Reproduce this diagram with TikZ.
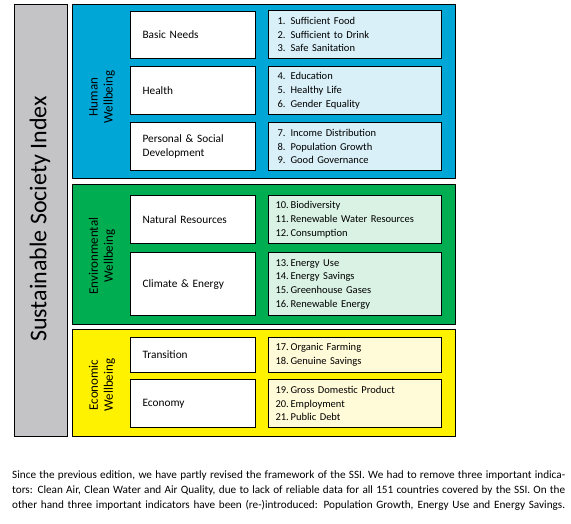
\documentclass[tikz,border=0pt]{standalone}
\usepackage{fontspec}
\setmainfont{Carlito}
\definecolor{hwblue}{RGB}{0,166,214}
\definecolor{hwlight}{RGB}{217,240,248}
\definecolor{ewgreen}{RGB}{0,173,80}
\definecolor{ewlight}{RGB}{217,242,228}
\definecolor{ecyellow}{RGB}{255,242,0}
\definecolor{eclight}{RGB}{255,251,217}
\definecolor{ssigray}{RGB}{196,196,198}
\newcommand{\numA}[1]{\hspace*{2pt}\makebox[13pt][l]{#1}}
\newcommand{\numB}[1]{\makebox[15pt][l]{#1}}
\begin{document}
\begin{tikzpicture}[x=1pt,y=-1pt,
  frame/.style={draw=black,line width=1.3pt,anchor=north west,inner sep=0pt,minimum width=383pt},
  catbox/.style={draw=black,line width=1.2pt,fill=white,anchor=north west,minimum width=125pt,
     text width=101pt,inner xsep=12pt,align=left,font=\fontsize{11.3}{14}\selectfont},
  indbox/.style={draw=black,line width=1.2pt,anchor=north west,minimum width=173pt,
     text width=159pt,inner xsep=7pt,align=left,font=\fontsize{10.5}{13.7}\selectfont},
  grouplabel/.style={rotate=90,align=center,font=\fontsize{13}{15}\selectfont},
  captionline/.style={anchor=west,inner sep=0pt,font=\fontsize{11.2}{14}\selectfont}
]
\useasboundingbox (0,0) rectangle (571,523);
% main title column
\node[draw=black,line width=1.3pt,fill=ssigray,anchor=north west,minimum width=53pt,minimum height=432pt,inner sep=0pt] (ssi) at (14,4) {};
\node[rotate=90,font=\fontsize{24}{28}\selectfont] (ssit) at (40,219) {Sustainable Society Index};
% group frames
\node[frame,fill=hwblue,minimum height=174pt] (hw) at (72,4) {};
\node[frame,fill=ewgreen,minimum height=140pt] (ew) at (72,184) {};
\node[frame,fill=ecyellow,minimum height=107pt] (ec) at (72,329) {};
\node[grouplabel] (hwl) at (102,97) {Human\\Wellbeing};
\node[grouplabel] (ewl) at (102,256) {Environmental\\Wellbeing};
\node[grouplabel] (ecl) at (102,385) {Economic\\Wellbeing};
% categories
\node[catbox,minimum height=47pt] (bn) at (130,11) {Basic Needs};
\node[catbox,minimum height=48pt] (he) at (130,66) {Health};
\node[catbox,minimum height=48pt] (ps) at (130,122) {Personal \& Social\\Development};
\node[catbox,minimum height=48pt] (nr) at (130,195) {Natural Resources};
\node[catbox,minimum height=63pt] (ce) at (130,252) {Climate \& Energy};
\node[catbox,minimum height=35pt] (tr) at (130,337) {Transition};
\node[catbox,minimum height=48pt] (eo) at (130,379) {Economy};
% indicators
\node[indbox,fill=hwlight,minimum height=48pt] (i1) at (268,10) {\numA{1.}Sufficient Food\\\numA{2.}Sufficient to Drink\\\numA{3.}Safe Sanitation};
\node[indbox,fill=hwlight,minimum height=48pt] (i2) at (268,66) {\numA{4.}Education\\\numA{5.}Healthy Life\\\numA{6.}Gender Equality};
\node[indbox,fill=hwlight,minimum height=48pt] (i3) at (268,122) {\numA{7.}Income Distribution\\\numA{8.}Population Growth\\\numA{9.}Good Governance};
\node[indbox,fill=ewlight,minimum height=48pt] (i4) at (268,195) {\numB{10.}Biodiversity\\\numB{11.}Renewable Water Resources\\\numB{12.}Consumption};
\node[indbox,fill=ewlight,minimum height=63pt] (i5) at (268,252) {\numB{13.}Energy Use\\\numB{14.}Energy Savings\\\numB{15.}Greenhouse Gases\\\numB{16.}Renewable Energy};
\node[indbox,fill=eclight,minimum height=35pt] (i6) at (268,337) {\numB{17.}Organic Farming\\\numB{18.}Genuine Savings};
\node[indbox,fill=eclight,minimum height=48pt] (i7) at (268,379) {\numB{19.}Gross Domestic Product\\\numB{20.}Employment\\\numB{21.}Public Debt};
% caption
\node[captionline] (c1) at (12,476) {\hbox to 553pt{Since the previous edition, we have partly revised the framework of the SSI. We had to remove three important indica-}};
\node[captionline] (c2) at (12,491) {\hbox to 553pt{tors: Clean Air, Clean Water and Air Quality, due to lack of reliable data for all 151 countries covered by the SSI. On the}};
\node[captionline] (c3) at (12,505) {\hbox to 553pt{other hand three important indicators have been (re-)introduced: Population Growth, Energy Use and Energy Savings.}};
\end{tikzpicture}
\end{document}
